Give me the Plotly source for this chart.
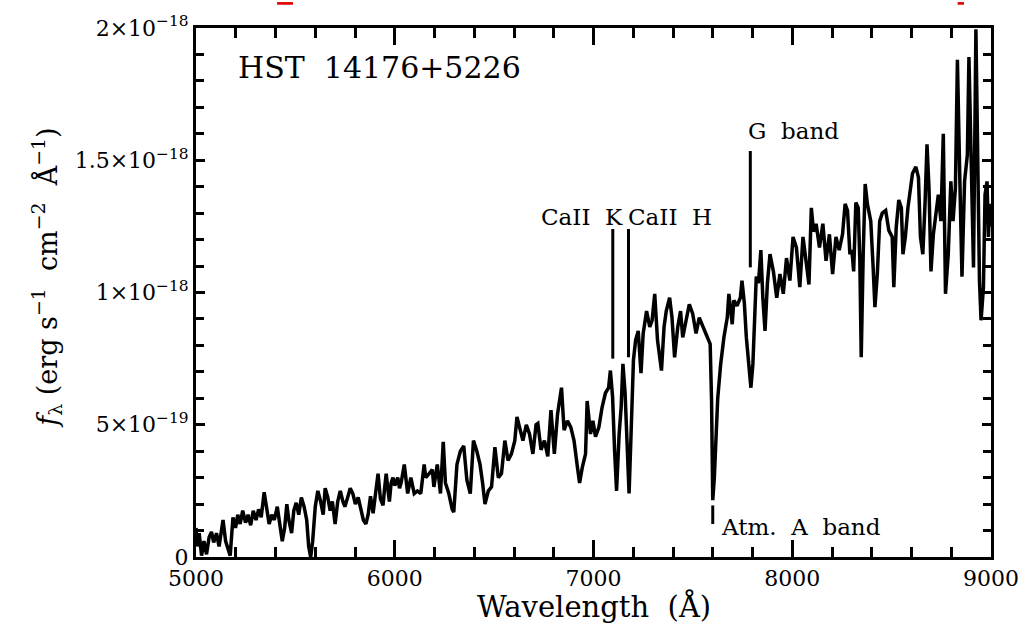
import plotly.graph_objects as go

# ---- data (flux in units of 1e-19 erg s^-1 cm^-2 A^-1) ----
wavelength = [
    5000, 5006, 5016, 5028, 5040, 5053, 5066, 5078, 5089, 5103, 5116, 5128, 5136, 5149, 5161, 5172,
    5186, 5199, 5210, 5222, 5235, 5249, 5262, 5275, 5288, 5302, 5315, 5328, 5343, 5355, 5368, 5381,
    5394, 5409, 5421, 5434, 5446, 5457, 5467, 5481, 5492, 5504, 5517, 5530, 5544, 5557, 5567, 5577,
    5587, 5600, 5613, 5627, 5640, 5650, 5663, 5675, 5686, 5700, 5713, 5726, 5739, 5749, 5763, 5776,
    5789, 5802, 5816, 5829, 5842, 5855,
    5866, 5878, 5891, 5905, 5916, 5928, 5941, 5949, 5957, 5965, 5973, 5982, 5991, 6000, 6015, 6024,
    6032, 6048, 6065, 6081, 6098, 6114, 6131, 6148, 6156, 6173, 6189, 6197, 6214, 6230, 6244, 6255,
    6272, 6289, 6297, 6313, 6330, 6347, 6363, 6380, 6396, 6413, 6429, 6442, 6454, 6471, 6487, 6504,
    6521, 6537, 6554, 6570, 6587, 6604, 6615, 6628, 6645, 6662, 6678, 6695, 6711,
    6720, 6736, 6753, 6770, 6786, 6803, 6819, 6839, 6852, 6869, 6886, 6902, 6919, 6930, 6944, 6960,
    6968, 6985, 6997, 7010, 7027, 7043, 7060, 7076, 7085, 7096, 7106, 7116, 7129, 7139, 7148, 7159,
    7171, 7179, 7189, 7201, 7212, 7225, 7239, 7250, 7267, 7283, 7295, 7308, 7322, 7342, 7355, 7366,
    7383, 7395, 7408, 7424, 7438, 7449, 7466, 7482, 7499, 7516, 7532, 7549, 7565, 7579, 7587, 7594,
    7600, 7608, 7615, 7625, 7640, 7656, 7673, 7681, 7698, 7706, 7722, 7739, 7747, 7759, 7769, 7781,
    7792, 7802, 7810, 7819, 7830, 7842, 7852, 7863, 7875, 7888, 7905, 7922, 7938, 7955, 7971, 7988,
    8004, 8021, 8038, 8054, 8071, 8084, 8096, 8107, 8120, 8137, 8154, 8170, 8187, 8203, 8220, 8236,
    8253, 8266, 8278, 8290,
    8300, 8309, 8320, 8332, 8340, 8347, 8357, 8367, 8378, 8395, 8407, 8416, 8428, 8440, 8453, 8470,
    8486, 8503, 8511, 8523, 8536, 8549, 8557, 8569, 8582, 8594, 8605, 8622, 8635, 8645, 8657, 8668,
    8678, 8688, 8698, 8710, 8723, 8735, 8748, 8760, 8771, 8785, 8798, 8809, 8821, 8831, 8843, 8854,
    8867, 8881, 8889, 8901, 8912, 8924, 8934, 8942, 8950, 8962, 8970, 8980, 8987, 8993, 9000,
]
flux_e19 = [
    1.1, 0.4, 0.9, 0.05, 0.6, 0.1, 0.75, 0.95, 0.55, 0.9, 0.4, 1.0, 1.4, 0.6, 0.3, 0.05,
    1.5, 1.1, 1.6, 1.25, 1.75, 1.3, 1.6, 1.2, 1.75, 1.4, 1.8, 1.5, 2.45, 1.75, 1.25, 1.6,
    1.4, 1.9, 1.25, 0.6, 1.1, 2.0, 1.4, 0.9, 1.75, 2.05, 1.6, 2.25, 1.9, 1.4, 0.4, 0.0,
    0.6, 1.9, 2.5, 2.1, 1.6, 2.6, 2.25, 1.75, 2.1, 1.25, 2.1, 2.5, 2.1, 1.9, 2.25, 2.6,
    2.4, 2.0, 2.25, 1.75, 1.4, 1.25,
    1.6, 2.3, 1.65, 2.5, 3.15, 2.2, 1.95, 2.6, 3.15, 2.6, 2.1, 2.8, 3.0, 2.7, 3.0, 2.6,
    2.8, 3.5, 2.4, 3.0, 2.4, 2.5, 2.4, 3.5, 3.0, 3.15, 3.3, 2.65, 3.5, 2.4, 4.35, 2.8,
    2.4, 1.8, 1.7, 3.5, 4.0, 4.2, 2.9, 2.4, 4.4, 4.0, 3.5, 2.8, 2.0, 2.5, 2.65, 4.15,
    3.0, 3.15, 4.4, 3.65, 3.9, 4.4, 5.3, 4.9, 4.4, 5.0, 4.65, 3.9, 5.0,
    5.05, 4.05, 4.4, 3.8, 5.55, 3.9, 5.4, 6.4, 4.8, 5.15, 4.9, 4.4, 3.4, 2.8, 3.4, 3.9,
    5.9, 4.65, 5.15, 4.55, 4.9, 5.65, 6.2, 6.4, 7.05, 6.05, 4.05, 2.5, 4.65, 5.65, 7.3, 6.2,
    3.9, 2.4, 4.65, 7.45, 8.2, 8.55, 6.95, 8.45, 9.3, 8.7, 8.95, 9.95, 8.2, 7.05, 8.7, 9.3,
    9.8, 9.05, 7.55, 8.7, 9.3, 8.3, 8.95, 9.55, 9.2, 8.45, 9.05, 8.7, 8.45, 8.2, 8.05, 5.9,
    2.15, 3.0, 4.5, 6.0, 7.3, 8.3, 9.05, 9.95, 8.8, 9.7, 9.5, 9.8, 10.45, 9.6, 8.3, 7.3,
    6.4, 7.3, 9.3, 10.6, 10.35, 11.6, 9.8, 8.55, 10.35, 11.45, 10.8, 9.8, 10.7, 9.95, 11.3, 10.45,
    12.1, 11.7, 10.2, 12.1, 11.1, 10.3, 13.2, 12.3, 12.6, 11.7, 12.6, 11.2, 12.2, 10.7, 12.1, 11.6,
    12.2, 13.35, 13.1, 11.45,
    11.6, 10.8, 13.4, 13.2, 11.2, 7.55, 11.45, 14.1, 13.35, 12.7, 10.95, 9.45, 10.7, 12.7, 13.0, 13.1,
    12.35, 12.1, 10.2, 12.45, 13.5, 13.2, 11.45, 12.1, 13.2, 14.0, 14.5, 14.75, 14.35, 12.1, 11.45, 13.35,
    15.6, 13.95, 10.8, 12.2, 13.1, 13.7, 12.7, 16.0, 9.95, 11.45, 14.2, 12.7, 13.95, 18.8, 14.35, 10.6,
    14.2, 15.2, 18.9, 14.35, 10.95, 19.95, 15.2, 10.45, 8.95, 10.2, 13.7, 14.2, 12.1, 13.35, 12.5,
]

x_tickvals = [5000, 6000, 7000, 8000, 9000]
x_ticktext = ["5000", "6000", "7000", "8000", "9000"]
y_tickvals = [0, 5e-19, 1e-18, 1.5e-18, 2e-18]
y_ticktext = ["0", "5×10<sup>−19</sup>", "1×10<sup>−18</sup>",
              "1.5×10<sup>−18</sup>", "2×10<sup>−18</sup>"]

# line markers: (wavelength, y_low_e19, y_high_e19)
line_marks = [(7097, 7.5, 12.4), (7176, 7.55, 12.4), (7789, 10.95, 15.35), (7600, 1.25, 1.95)]
# labels: (text, wavelength, y_e19, size, anchor)
labels = [
    ("HST\u00a0\u00a014176+5226", 5200, 18.5, 30, "left"),
    ("CaII\u00a0\u00a0K", 6940, 12.85, 23, "center"),
    ("CaII\u00a0\u00a0H", 7383, 12.85, 23, "center"),
    ("G\u00a0\u00a0band", 8005, 16.1, 23, "center"),
    ("Atm.\u00a0\u00a0A\u00a0\u00a0band", 8045, 1.13, 23, "center"),
]

FONT = "DejaVu Serif"
flux = [v * 1e-19 for v in flux_e19]

fig = go.Figure()
fig.add_trace(go.Scatter(x=wavelength, y=flux, mode="lines",
                         line=dict(color="black", width=3.5), showlegend=False,
                         hoverinfo="skip"))

for lam, lo, hi in line_marks:
    fig.add_shape(type="line", xref="x", yref="y", x0=lam, x1=lam,
                  y0=lo * 1e-19, y1=hi * 1e-19, line=dict(color="black", width=3))

for text, lam, yv, size, anchor in labels:
    fig.add_annotation(x=lam, y=yv * 1e-19, xref="x", yref="y", text=text,
                       showarrow=False, xanchor=anchor, yanchor="middle",
                       font=dict(family=FONT, size=size, color="black"))

# axis titles
fig.add_annotation(xref="paper", yref="paper", x=0.5, y=-0.093,
                   text="Wavelength\u00a0\u00a0(Å)", showarrow=False,
                   xanchor="center", yanchor="middle",
                   font=dict(family=FONT, size=29, color="black"))
fig.add_annotation(xref="paper", yref="paper", x=-0.188, y=0.527,
                   text="<i>f</i><sub>λ</sub>\u00a0(erg\u00a0s<sup>−1</sup>\u00a0\u00a0cm<sup>−2</sup>\u00a0\u00a0Å<sup>−1</sup>)",
                   showarrow=False, textangle=-90, xanchor="center", yanchor="middle",
                   font=dict(family=FONT, size=27, color="black"))

# red fragments of a cropped title at the very top edge
for x0, x1 in [(0.102, 0.122), (0.958, 0.966)]:
    fig.add_shape(type="rect", xref="paper", yref="paper", x0=x0, x1=x1,
                  y0=1.044, y1=1.049, fillcolor="#e00000", line=dict(width=0))

fig.update_xaxes(range=[5000, 9000], showgrid=False, zeroline=False,
                 showline=True, linewidth=3, linecolor="black", mirror="ticks",
                 ticks="inside", ticklen=17, tickwidth=2.5, tickcolor="black",
                 tickvals=x_tickvals, ticktext=x_ticktext,
                 tickfont=dict(family=FONT, size=22, color="black"),
                 minor=dict(ticks="inside", dtick=200, tick0=5000, ticklen=10,
                            tickwidth=2.5, tickcolor="black", showgrid=False))
fig.update_yaxes(range=[0, 2e-18], showgrid=False, zeroline=False,
                 showline=True, linewidth=3, linecolor="black", mirror="ticks",
                 ticks="inside", ticklen=9, tickwidth=2.5, tickcolor="black",
                 tickvals=y_tickvals, ticktext=y_ticktext,
                 tickfont=dict(family=FONT, size=22, color="black"),
                 minor=dict(ticks="inside", dtick=1e-19, tick0=0, ticklen=8,
                            tickwidth=2.5, tickcolor="black", showgrid=False))

fig.update_layout(width=1031, height=624, margin=dict(l=196, r=31, t=26, b=67),
                  paper_bgcolor="white", plot_bgcolor="white",
                  font=dict(family=FONT, color="black"))

fig.write_html("out.html")
